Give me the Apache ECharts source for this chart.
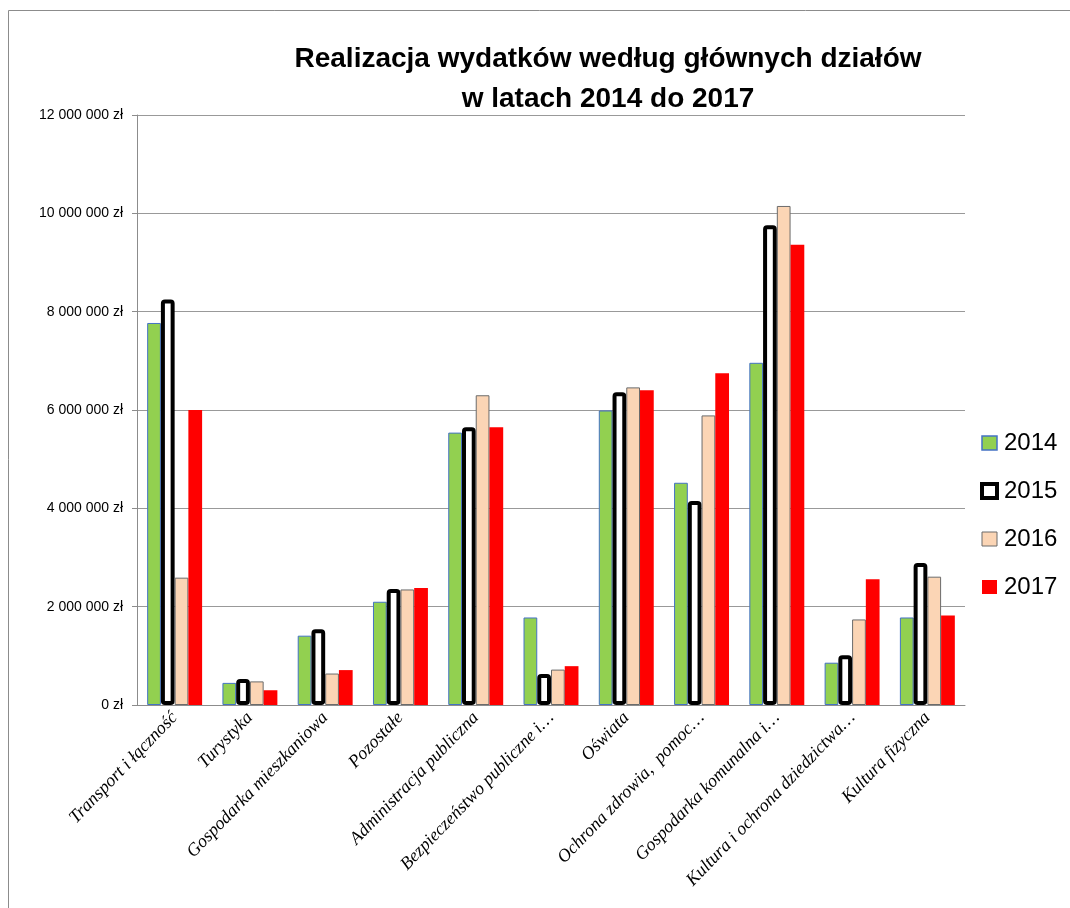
<!DOCTYPE html>
<html><head><meta charset="utf-8">
<script src="https://cdn.jsdelivr.net/npm/echarts@6/dist/echarts.min.js"></script>
<style>html,body{margin:0;padding:0;background:#fff;}#c{width:1070px;height:908px;}</style>
</head><body><div id="c"></div>
<script>
const categories = ["Transport i łączność","Turystyka","Gospodarka mieszkaniowa","Pozostałe","Administracja publiczna","Bezpieczeństwo publiczne i…","Oświata","Ochrona zdrowia,  pomoc…","Gospodarka komunalna i…","Kultura i ochrona dziedzictwa…","Kultura fizyczna"];
const seriesNames = ["2014","2015","2016","2017"];
const v2014 = [7770000, 450000, 1410000, 2100000, 5540000, 1780000, 5990000, 4520000, 6960000, 860000, 1780000];
const v2015 = [8250000, 530000, 1540000, 2360000, 5650000, 630000, 6360000, 4150000, 9760000, 1010000, 2890000];
const v2016 = [2590000, 480000, 640000, 2350000, 6300000, 720000, 6460000, 5890000, 10150000, 1740000, 2610000];
const v2017 = [6000000, 300000, 710000, 2380000, 5650000, 790000, 6400000, 6750000, 9360000, 2560000, 1820000];
const yMin = 0, yMax = 12000000, yStep = 2000000;

const styles = [
  {color:'#92D050', borderColor:'#4472C4', borderWidth:1},
  {color:'#FFFFFF', borderColor:'#000000', borderWidth:4, borderRadius:2},
  {color:'#FBD5B5', borderColor:'#6b6b6b', borderWidth:1},
  {color:'#FF0000', borderColor:'#FF0000', borderWidth:0}
];
const legendStyles = [
  {color:'#92D050', borderColor:'#4472C4', borderWidth:1.5},
  {color:'#FFFFFF', borderColor:'#000000', borderWidth:4},
  {color:'#FBD5B5', borderColor:'#6b6b6b', borderWidth:1},
  {color:'#FF0000', borderColor:'#FF0000', borderWidth:0}
];
const values = [v2014, v2015, v2016, v2017];

function fmt(v){ return String(v).replace(/\B(?=(\d{3})+(?!\d))/g,' ') + ' zł'; }

const chart = echarts.init(document.getElementById('c'));
chart.setOption({
  animation:false,
  backgroundColor:'#fff',
  graphic:[{type:'rect', shape:{x:8.5,y:10.5,width:1200,height:1200}, style:{fill:'none', stroke:'#8c8c8c', lineWidth:1}, silent:true}],
  title:{
    text:'Realizacja wydatków według głównych działów\nw latach 2014 do 2017',
    left:603, top:34, textAlign:'center',
    textStyle:{fontFamily:'Liberation Sans', fontWeight:'bold', fontSize:28, lineHeight:40, color:'#000'}
  },
  legend:{
    orient:'vertical', left:975, top:426, itemGap:24, itemWidth:15, itemHeight:14,
    textStyle:{fontFamily:'Liberation Sans', fontSize:24, color:'#000', padding:[0,0,0,2]},
    data: seriesNames.map((n,i)=>({name:n, icon:'rect', itemStyle:legendStyles[i]}))
  },
  grid:{left:137, right:105, top:115, bottom:203, containLabel:false},
  xAxis:{
    type:'category', data:categories,
    axisLine:{show:true, lineStyle:{color:'#8c8c8c', width:1}},
    axisTick:{show:false},
    axisLabel:{interval:0, rotate:46, fontFamily:'Liberation Serif', fontStyle:'italic', fontSize:18, color:'#000', margin:10}
  },
  yAxis:{
    type:'value', min:yMin, max:yMax, interval:yStep,
    axisLine:{show:true, lineStyle:{color:'#8c8c8c', width:1}},
    axisTick:{show:true, length:5, lineStyle:{color:'#8c8c8c'}},
    splitLine:{lineStyle:{color:'#999999', width:1}},
    axisLabel:{formatter:fmt, fontFamily:'Liberation Sans', fontSize:14, color:'#000', margin:14}
  },
  series: seriesNames.map((n,i)=>({
    name:n, type:'bar', data:values[i], barGap:'0%', barCategoryGap:'27%',
    itemStyle:styles[i]
  }))
});
</script></body></html>
